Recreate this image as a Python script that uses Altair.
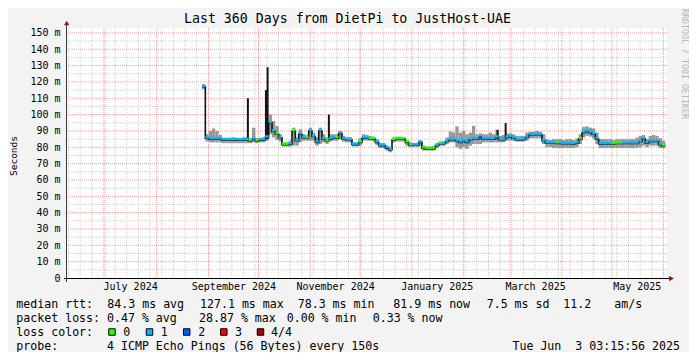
import altair as alt
import pandas as pd

FONT = "DejaVu Sans Mono"

# ---------------- data (2-day consolidated steps, from 2024-08-28) ----------------
median = [117, 85.5, 85, 85, 85, 85, 84.5, 84.5, 84.5, 84.6,
          84.5, 84.3, 84.5, 84.5, 84, 85, 84, 84.5, 84.5, 86,
          95, 89.7, 88, 85.8, 81.6, 81.6, 82, 90, 84, 88,
          85.8, 85.8, 90, 86.6, 83, 90, 85, 84, 85, 85.6,
          85.6, 88.5, 85, 84.6, 84.6, 81.6, 81.6, 83, 85.6, 85.6,
          85.2, 85, 83, 81, 81, 79.5, 78.5, 84.5, 85, 85,
          85, 83, 81.2, 81.2, 81.2, 83, 79.5, 79, 79, 79.2,
          81, 82.2, 82.2, 83.5, 84.6, 84.6, 84, 83, 84, 83,
          84.6, 85, 85, 85.5, 85, 85, 85, 85, 86, 84.6,
          84.6, 86, 86.5, 85.5, 84.5, 84.5, 84.8, 86, 87.7, 87.5,
          87.7, 87.7, 84, 82.6, 82.6, 82.6, 82.4, 82.3, 82.2, 82.2,
          82.2, 82, 82.5, 85, 89, 89.7, 89, 88, 85, 82,
          82, 82, 82, 82, 82.3, 82.3, 82.3, 82.3, 82.3, 82.3,
          82.3, 83.5, 85, 82.5, 83.6, 83.6, 83.6, 81.6, 81]
smoke_lo = [115.5, 83.5, 83, 83, 83, 83, 82.5, 82.5, 82.5, 82.5,
            82.5, 82.5, 82.5, 82.5, 82.5, 83, 82.5, 83, 83, 84,
            88, 86, 84.5, 83.5, 80.5, 80.5, 80.5, 81, 81, 83,
            84, 84, 84, 84, 81, 82, 83, 82, 83.5, 84,
            84, 85, 83.5, 83, 83, 80.5, 80.5, 81, 84, 84,
            84, 83.5, 81.5, 79.5, 79.5, 78, 77, 83, 83.5, 83.5,
            83.5, 81, 80, 80, 80, 80.5, 78, 78, 78, 78,
            79.5, 81, 81, 82, 83, 83, 80, 79, 80, 79,
            81, 82, 82, 82, 83, 83, 83, 83, 83, 83,
            83, 84, 84, 84, 83.5, 83.5, 83.5, 84, 85.5, 85.5,
            85.5, 85.5, 82, 80, 80, 79.5, 79.5, 79.5, 79.5, 79.5,
            79.5, 79.5, 80, 82, 86, 87, 86.5, 85.5, 82, 79.5,
            79.5, 79.5, 79.5, 79.5, 79.5, 79.5, 79.5, 79.5, 79.5, 79.5,
            79.5, 80, 81, 80, 81, 81, 81, 79.5, 79.5]
smoke_hi = [118.5, 88, 90, 91.5, 90, 87.5, 85.5, 85.5, 85.5, 86,
            85.5, 85.5, 86, 86, 85.5, 92, 85.5, 85.5, 86, 96,
            100, 96, 93, 88, 83, 83, 84, 92, 86, 91,
            88, 87.5, 92, 89, 86, 92, 88, 86, 88, 88,
            88, 90, 87, 86, 86, 83, 83, 85.5, 88, 87.5,
            87, 86.5, 85, 82.5, 82.5, 81, 80, 86, 86.5, 86.5,
            86, 84.5, 83, 82.5, 82.5, 84, 81, 80.5, 80.5, 80.5,
            82.5, 83.5, 83.5, 86, 89.7, 89, 92.8, 89, 90, 88,
            89, 93.2, 88, 88.5, 88, 88, 89, 88, 90.7, 87,
            87.5, 88.5, 88.5, 88, 87, 87, 87, 89, 89.5, 89.5,
            90, 89.5, 88, 85, 84.5, 85, 85, 85, 84.5, 85,
            85, 84.5, 85.5, 88, 92.5, 92.8, 92, 91.5, 89, 85,
            85, 85, 85, 84.5, 85, 85, 85, 85, 85, 85,
            86, 87, 87.5, 85, 87, 87.5, 87, 85.5, 84]
loss = [1, 1, 1, 1, 1, 1, 1, 1, 1, 1,
        1, 1, 1, 1, 0, 1, 0, 1, 1, 1,
        1, 1, 0, 1, 0, 0, 1, 0, 1, 1,
        1, 0, 1, 1, 1, 1, 1, 0, 1, 1,
        0, 1, 1, 1, 1, 1, 1, 0, 1, 1,
        0, 0, 1, 1, 1, 1, 1, 0, 0, 0,
        0, 0, 0, 1, 1, 1, 0, 0, 0, 0,
        1, 0, 1, 1, 1, 1, 1, 1, 1, 1,
        1, 1, 1, 2, 1, 1, 1, 1, 1, 1,
        1, 1, 1, 1, 1, 1, 1, 1, 1, 1,
        1, 1, 1, 1, 1, 1, 0, 1, 1, 1,
        1, 1, 1, 0, 1, 1, 1, 1, 1, 1,
        1, 1, 1, 0, 0, 0, 1, 1, 1, 1,
        1, 1, 1, 1, 1, 1, 1, 1, 0]

# short-lived latency spikes (single RRD steps)
spike_time = ["2024-09-24T16:00:00", "2024-10-05T12:00:00", "2024-10-06T12:00:00",
              "2024-11-12T06:00:00", "2025-02-21T12:00:00", "2025-02-26T08:00:00"]
spike_base = [84.5, 85, 85, 85, 85, 85]
spike_top = [110, 115, 129, 100, 90.7, 94.8]

first_step = "2024-08-28T03:15:56"
loss_colors = ["#26ff00", "#00b8ff", "#0059ff", "#ff0000", "#a00000"]
loss_labels = ["0", "1", "2", "3", "4/4"]

month_starts = ["2024-07-01", "2024-08-01", "2024-09-01", "2024-10-01", "2024-11-01",
                "2024-12-01", "2025-01-01", "2025-02-01", "2025-03-01", "2025-04-01",
                "2025-05-01", "2025-06-01"]
month_labels = ["2024-07-16", "2024-09-16", "2024-11-16", "2025-01-16", "2025-03-16",
                "2025-05-16"]
y_major = [10, 20, 30, 40, 50, 60, 70, 80, 90, 100, 110, 120, 130, 140, 150]
y_minor = [5, 15, 25, 35, 45, 55, 65, 75, 85, 95, 105, 115, 125, 135, 145]
y_ticks = [0] + y_major

title = "Last 360 Days from DietPi to JustHost-UAE"
row_rtt = ["median rtt:", "84.3 ms avg", "127.1 ms max", "78.3 ms min", "81.9 ms now",
           "7.5 ms sd", "11.2", "am/s"]
row_loss = ["packet loss:", "0.47 % avg", "28.87 % max", "0.00 % min", "0.33 % now"]
row_probe = ["probe:", "4 ICMP Echo Pings (56 Bytes) every 150s", "Tue Jun  3 03:15:56 2025"]

# ---------------- tables ----------------
starts = pd.date_range(first_step, periods=len(median), freq="2D")
ends = starts + pd.Timedelta(days=2)
fmt = "%Y-%m-%dT%H:%M:%S"
df = pd.DataFrame({
    "start": starts.strftime(fmt), "end": ends.strftime(fmt),
    "med": median, "lo": smoke_lo, "hi": smoke_hi,
    "loss": [str(v) for v in loss],
})
line_df = pd.DataFrame({
    "t": list(starts.strftime(fmt)) + [ends[-1].strftime(fmt)],
    "med": median + [median[-1]],
})
spike_df = pd.DataFrame({"t": spike_time, "base": spike_base, "top": spike_top})
weeks = pd.date_range("2024-06-09", "2025-06-01", freq="7D").strftime(fmt)
week_df = pd.DataFrame({"t": list(weeks)})
month_df = pd.DataFrame({"t": [m + "T00:00:00" for m in month_starts]})
ymaj_df = pd.DataFrame({"v": y_major})
ymin_df = pd.DataFrame({"v": y_minor})
one = pd.DataFrame({"k": [0]})


def dt(s):
    d = pd.Timestamp(s)
    return alt.DateTime(year=d.year, month=d.month, date=d.day,
                        hours=d.hour, minutes=d.minute, seconds=d.second)


xs = alt.Scale(domain=[dt("2024-06-08T03:15:56"), dt("2025-06-03T03:15:56")])
ys = alt.Scale(domain=[0, 153], nice=False, zero=True)

x_axis = alt.Axis(values=[dt(m) for m in month_labels],
                  labelExpr="timeFormat(datum.value, '%B %Y')",
                  labelFont=FONT, labelFontSize=10, labelColor="#000000",
                  labelBaseline="alphabetic", labelPadding=11, labelFlush=False,
                  labelOverlap=False, ticks=False, tickSize=0, domain=False,
                  grid=False, title=None)
y_axis = alt.Axis(values=y_ticks,
                  labelExpr="datum.value == 0 ? '0\u00a0\u00a0' : datum.value + ' m'",
                  labelFont=FONT, labelFontSize=10, labelColor="#000000",
                  labelBaseline="middle", labelPadding=7, ticks=False, tickSize=0,
                  domain=False, grid=False, title=None)

GRID_MIN = "#cfcfcf"
GRID_MAJ = "#f0a0a0"

g_week = alt.Chart(week_df).mark_rule(color=GRID_MIN, strokeDash=[1, 1], strokeWidth=1).encode(
    x=alt.X("t:T", scale=xs, axis=x_axis))
g_ymin = alt.Chart(ymin_df).mark_rule(color=GRID_MIN, strokeDash=[1, 1], strokeWidth=1).encode(
    y=alt.Y("v:Q", scale=ys, axis=y_axis))
g_month = alt.Chart(month_df).mark_rule(color=GRID_MAJ, strokeDash=[1, 1], strokeWidth=1).encode(
    x=alt.X("t:T", scale=xs, axis=x_axis))
g_ymaj = alt.Chart(ymaj_df).mark_rule(color=GRID_MAJ, strokeDash=[1, 1], strokeWidth=1).encode(
    y=alt.Y("v:Q", scale=ys, axis=y_axis))

smoke = alt.Chart(df).mark_rect(color="#999999").encode(
    x=alt.X("start:T", scale=xs, axis=x_axis), x2="end:T",
    y=alt.Y("lo:Q", scale=ys, axis=y_axis), y2="hi:Q")

med_line = alt.Chart(line_df).mark_line(interpolate="step-after", color="#141414",
                                        strokeWidth=1.6).encode(
    x=alt.X("t:T", scale=xs, axis=x_axis), y=alt.Y("med:Q", scale=ys, axis=y_axis))

spikes = alt.Chart(spike_df).mark_rule(color="#141414", strokeWidth=2).encode(
    x=alt.X("t:T", scale=xs, axis=x_axis),
    y=alt.Y("base:Q", scale=ys, axis=y_axis), y2="top:Q")

med_col = alt.Chart(df).mark_rule(strokeWidth=2.5, yOffset=-1).encode(
    x=alt.X("start:T", scale=xs, axis=x_axis), x2="end:T",
    y=alt.Y("med:Q", scale=ys, axis=y_axis),
    color=alt.Color("loss:N", scale=alt.Scale(domain=["0", "1", "2", "3", "4"],
                                              range=loss_colors), legend=None))


def txt(s, x, y, size=11.6, align="left", color="#000000", angle=0, baseline="alphabetic"):
    return alt.Chart(one).mark_text(text=s.replace(" ", "\u00a0"), align=align,
                                    baseline=baseline, font=FONT, fontSize=size,
                                    color=color, angle=angle).encode(
        x=alt.value(x), y=alt.value(y))


deco = []
# axis lines and arrows
deco.append(alt.Chart(one).mark_rule(color="#3a3a3a", strokeWidth=1).encode(
    x=alt.value(-0.5), y=alt.value(-5), y2=alt.value(254)))
deco.append(alt.Chart(one).mark_rule(color="#000000", strokeWidth=1).encode(
    x=alt.value(-3), x2=alt.value(603), y=alt.value(250.5)))
deco.append(alt.Chart(one).mark_point(shape="triangle-up", filled=True, size=30,
                                      color="#8b1a1a", opacity=1).encode(
    x=alt.value(-0.3), y=alt.value(-5)))
deco.append(alt.Chart(one).mark_point(shape="triangle-right", filled=True, size=30,
                                      color="#8b1a1a", opacity=1).encode(
    x=alt.value(604.5), y=alt.value(250.5)))

# titles
deco.append(txt(title, 280.5, -5, size=13.25, align="center"))
deco.append(txt("Seconds", -53, 128, size=9.5, align="center", angle=270, baseline="middle"))
deco.append(txt("RRDTOOL / TOBI OETIKER", 617, 36, size=8.3, align="center",
                color="#b4b4b4", angle=90, baseline="middle"))

# legend rows
for s, x in zip(row_rtt, [-50.7, 40.3, 133, 230.7, 326.3, 419.7, 496.3, 547.3]):
    deco.append(txt(s, x, 279.5))
for s, x in zip(row_loss, [-50.7, 40, 132, 219.7, 305.7]):
    deco.append(txt(s, x, 293.5))
deco.append(txt("loss color:", -50.7, 307.5))
for c, lab, bx, lx in zip(loss_colors, loss_labels,
                          [45, 82.5, 119.7, 156.8, 193.5],
                          [56.3, 93.7, 131.3, 168, 204]):
    deco.append(alt.Chart(one).mark_square(filled=True, size=42, color=c, stroke="#000000",
                                           strokeWidth=1, opacity=1).encode(
        x=alt.value(bx), y=alt.value(304)))
    deco.append(txt(lab, lx, 307.5))
deco.append(txt(row_probe[0], -50.7, 321.5))
deco.append(txt(row_probe[1], 40, 321.5))
deco.append(txt(row_probe[2], 613, 321.5, align="right"))

chart = alt.layer(g_week, g_ymin, g_month, g_ymaj, smoke, med_line, spikes, med_col,
                  *deco).properties(
    width=600, height=250,
    autosize=alt.AutoSizeParams(type="none"),
    padding={"left": 59, "top": 20, "right": 22, "bottom": 74},
    background="#f3f3f3",
).configure_view(fill="#ffffff", stroke=None)

chart.save("out.html", embed_options={"renderer": "svg", "actions": False})
